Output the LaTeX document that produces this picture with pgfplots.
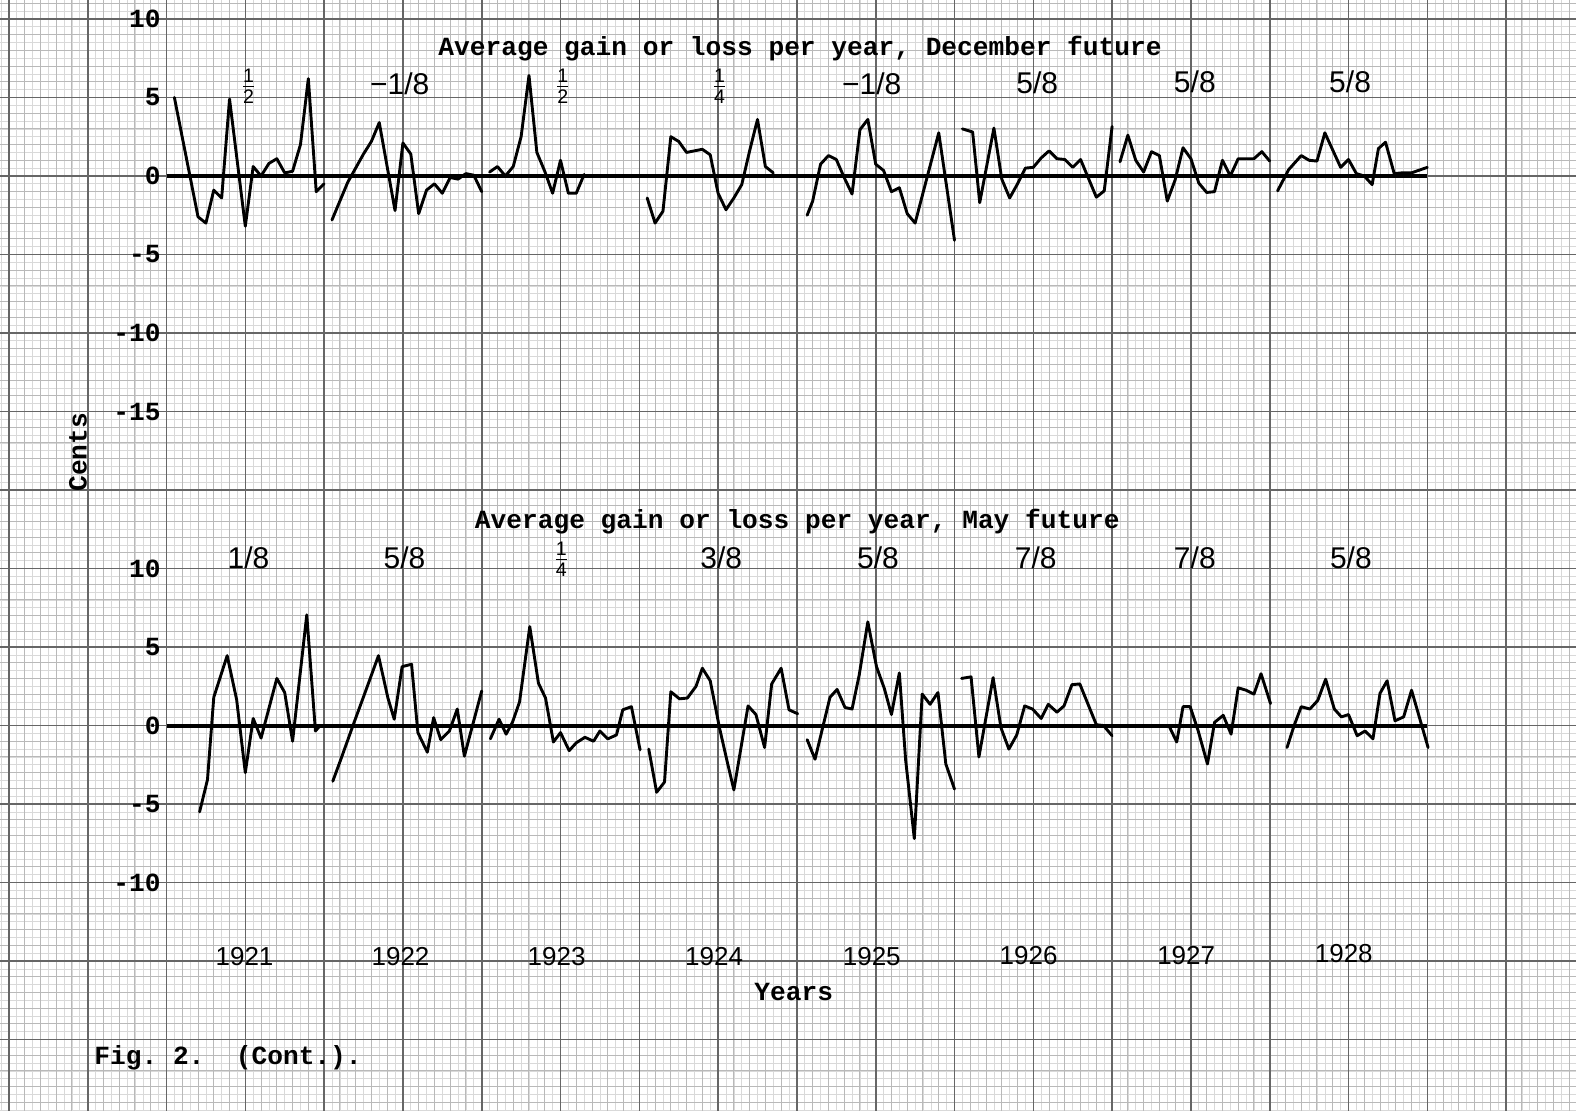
\documentclass[border=0pt]{standalone}
\usepackage{amsmath}
\usepackage{pgfplots}
\pgfplotsset{compat=1.18}
\usepackage{fontspec}
\setmainfont{Liberation Sans}
\newfontfamily\tw{Liberation Mono}
\newcommand\twf{\fontsize{13.1}{15}\tw\bfseries}
\newcommand\hand{\fontsize{13}{15}\selectfont}
\newcommand\frc{\fontsize{15}{17}\selectfont}
\newcommand\sfr[2]{{\fontsize{14}{16}\selectfont$\frac{\text{#1}}{\text{#2}}$}}
\frenchspacing
\begin{document}
\begin{tikzpicture}
\pgfplotsset{
  paper/.style={width=788pt,height=555.5pt,scale only axis,
    xmin=-21.13,xmax=178.87,at={(0,0)},anchor=south west,
    axis line style={draw=none},tick style={draw=none},
    xticklabels={},yticklabels={}},
  topy/.style={ymin=-59.55,ymax=11.21},
  boty/.style={ymin=-24.55,ymax=46.21},
  data/.style={paper,xtick=\empty,ytick=\empty},
  seg/.style={black,solid,mark=none,line width=1.45pt,line join=round,line cap=round},
  zero/.style={black,solid,mark=none,line width=2pt},
}
% graph paper: fine, medium and major rulings
\begin{axis}[paper,topy,xtick distance=1,ytick distance=0.5,grid=major,
  major grid style={draw=gray!30,line width=0.35pt}]
\end{axis}
\begin{axis}[paper,topy,xtick distance=2,ytick distance=1,grid=major,
  major grid style={draw=gray!55,line width=0.5pt}]
\end{axis}
\begin{axis}[paper,topy,xtick distance=10,ytick distance=5,grid=major,
  major grid style={draw=gray!80!black,line width=0.8pt}]
\end{axis}

% ---------------- December future ----------------
\begin{axis}[data,topy]
\addplot[zero] coordinates {(0,0) (160,0)};
% 1921
\addplot[seg] coordinates {(1,5.0) (4,-2.6) (5,-3.0) (6,-0.9) (7,-1.4) (8,4.9) (10,-3.2) (11,0.6) (12,0.0) (13,0.8) (14,1.1) (15,0.2) (16,0.3) (17,2.0) (18,6.2) (19,-1.0) (20,-0.5)};
% 1922
\addplot[seg] coordinates {(21,-2.8) (23,-0.4) (25,1.4) (26,2.2) (27,3.4) (29,-2.2) (30,2.1) (31,1.4) (32,-2.4) (33,-0.9) (34,-0.5) (35,-1.1) (36,-0.1) (37,-0.2) (38,0.15) (39,0.05) (40,-1.0)};
% 1923
\addplot[seg] coordinates {(41,0.25) (42,0.6) (43,0) (44,0.6) (45,2.5) (46,6.4) (47,1.5) (48,0.3) (49,-1.1) (50,1.0) (51,-1.1) (52,-1.1) (53,0.1)};
% 1924
\addplot[seg] coordinates {(61,-1.4) (62,-3.0) (63,-2.25) (64,2.5) (65,2.2) (66,1.5) (67,1.6) (68,1.7) (69,1.35) (70,-1.1) (71,-2.15) (72,-1.4) (73,-0.55) (74,1.6) (75,3.6) (76,0.6) (77,0.2)};
% 1925
\addplot[seg] coordinates {(81.3,-2.5) (82,-1.6) (83,0.75) (84,1.3) (85,1.05) (86,-0.1) (87,-1.15) (88,2.95) (89,3.6) (90,0.75) (91,0.35) (92,-1.0) (93,-0.75) (94,-2.4) (95,-3.0) (98,2.75) (100,-4.1)};
% 1926
\addplot[seg] coordinates {(101,3.0) (102.3,2.8) (103.2,-1.7) (105,3.05) (106,-0.2) (107,-1.4) (108,-0.5) (109,0.5) (110,0.55) (111,1.15) (112,1.6) (113,1.1) (114,1.05) (115,0.55) (116,1.05) (118,-1.35) (119,-0.95) (120,3.15)};
% 1927
\addplot[seg] coordinates {(121,0.9) (122,2.6) (123,1.0) (124,0.25) (125,1.55) (126,1.3) (127,-1.6) (128,-0.25) (129,1.8) (130,1.1) (131,-0.45) (132,-1.05) (133,-1.0) (134,1.0) (135,0.0) (136,1.1) (138,1.1) (139,1.55) (140,0.95)};
% 1928
\addplot[seg] coordinates {(141,-0.95) (142.4,0.4) (144,1.3) (145,1.0) (146,0.95) (147,2.75) (148,1.65) (149,0.55) (150,1.05) (151,0.15) (152,0) (153,-0.55) (153.8,1.75) (154.7,2.15) (155.8,0.15) (156.8,0.2) (158,0.2) (160,0.55)};
% texts
\node[font=\twf,anchor=base] at (axis cs:80.4,7.7) {Average gain or loss per year, December future};
\pgfplotsinvokeforeach{10,5,0,-5,-10,-15}{\node[font=\twf,anchor=east,inner sep=0pt] at (axis cs:-0.7,#1) {#1};}
\node[font=\twf,rotate=90,anchor=base] at (axis cs:-10.15,-17.6) {Cents};
\node at (axis cs:10.4,5.7) {\sfr{1}{2}};
\node[font=\frc] at (axis cs:29.6,5.85) {−1/8};
\node at (axis cs:50.3,5.7) {\sfr{1}{2}};
\node at (axis cs:70.2,5.7) {\sfr{1}{4}};
\node[font=\frc] at (axis cs:89.5,5.9) {−1/8};
\node[font=\frc] at (axis cs:110.5,5.95) {5/8};
\node[font=\frc] at (axis cs:130.5,6.0) {5/8};
\node[font=\frc] at (axis cs:150.2,6.0) {5/8};
\end{axis}

% ---------------- May future ----------------
\begin{axis}[data,boty]
\addplot[zero] coordinates {(0,0) (160,0)};
% 1921
\addplot[seg] coordinates {(4.2,-5.5) (5.2,-3.45) (6,1.8) (7.7,4.45) (8.9,1.65) (10,-3.0) (11,0.45) (12,-0.8) (14,3.0) (15,2.1) (16,-1.0) (17.8,7.05) (18.9,-0.35) (19.5,0)};
% 1922
\addplot[seg] coordinates {(21.1,-3.55) (22.2,-2.05) (23.7,0.05) (25.2,2.1) (26.9,4.45) (28.1,1.75) (28.9,0.4) (29.9,3.75) (31.1,3.9) (31.9,-0.45) (33.1,-1.7) (33.9,0.5) (34.8,-0.9) (35.9,-0.35) (36.9,1.05) (37.8,-1.95) (40,2.2)};
% 1923
\addplot[seg] coordinates {(41.1,-0.85) (42.2,0.4) (43.1,-0.55) (43.9,0.2) (44.8,1.5) (46.1,6.3) (47.2,2.7) (48.1,1.75) (49.1,-1.05) (50,-0.45) (51.1,-1.6) (52,-1.1) (53.1,-0.75) (54.2,-1.0) (55,-0.35) (56,-0.85) (57.1,-0.6) (57.9,1.0) (59,1.2) (60.1,-1.55)};
% 1924
\addplot[seg] coordinates {(61.2,-1.5) (62.2,-4.25) (63.2,-3.6) (64,2.15) (65.1,1.7) (66.1,1.75) (67.2,2.5) (68,3.65) (69,2.85) (70.2,-0.2) (71.2,-2.4) (72,-4.1) (73.8,1.25) (74.8,0.7) (75.9,-1.4) (76.8,2.65) (78,3.65) (79,1.0) (80.1,0.75)};
% 1925
\addplot[seg] coordinates {(81.3,-0.9) (82.3,-2.15) (84.2,1.8) (85.1,2.3) (86.1,1.15) (87,1.05) (87.9,3.2) (89,6.6) (90.1,3.75) (91.1,2.35) (92,0.7) (93,3.35) (93.8,-2.2) (94.9,-7.2) (95.9,2.0) (96.9,1.35) (97.9,2.1) (98.9,-2.45) (100,-4.05)};
% 1926
\addplot[seg] coordinates {(100.9,3.0) (102.1,3.1) (103.1,-2.0) (104.9,3.05) (105.9,-0.15) (106.9,-1.5) (107.9,-0.6) (108.9,1.25) (109.9,1.05) (111,0.45) (111.9,1.35) (113,0.85) (113.9,1.25) (114.9,2.6) (115.9,2.65) (118,0.05) (118.9,0) (120,-0.65)};
% 1927
\addplot[seg] coordinates {(127.2,0) (128.2,-1.05) (129,1.2) (129.9,1.2) (130.9,-0.3) (132.1,-2.45) (133,0.2) (134.1,0.65) (135.1,-0.55) (136,2.4) (137,2.25) (138,2.0) (138.9,3.3) (140.1,1.4)};
% 1928
\addplot[seg] coordinates {(142.2,-1.4) (143.1,0) (144,1.2) (145.1,1.05) (146.1,1.6) (147.1,2.95) (148.2,1.05) (149.1,0.55) (150,0.7) (151.1,-0.65) (152.1,-0.35) (153.1,-0.85) (154,2.05) (154.9,2.85) (155.9,0.3) (157,0.55) (158,2.25) (160.1,-1.4)};
% texts
\node[font=\twf,anchor=base] at (axis cs:80.05,12.57) {Average gain or loss per year, May future};
\pgfplotsinvokeforeach{10,5,0,-5,-10}{\node[font=\twf,anchor=east,inner sep=0pt] at (axis cs:-0.7,#1) {#1};}
\node[font=\frc] at (axis cs:10.4,10.7) {1/8};
\node[font=\frc] at (axis cs:30.2,10.7) {5/8};
\node at (axis cs:50.1,10.6) {\sfr{1}{4}};
\node[font=\frc] at (axis cs:70.4,10.7) {3/8};
\node[font=\frc] at (axis cs:90.3,10.7) {5/8};
\node[font=\frc] at (axis cs:110.3,10.7) {7/8};
\node[font=\frc] at (axis cs:130.5,10.7) {7/8};
\node[font=\frc] at (axis cs:150.3,10.7) {5/8};
\node[font=\hand,anchor=base] at (axis cs:9.9,-15.3) {1921};
\node[font=\hand,anchor=base] at (axis cs:29.7,-15.3) {1922};
\node[font=\hand,anchor=base] at (axis cs:49.5,-15.3) {1923};
\node[font=\hand,anchor=base] at (axis cs:69.5,-15.3) {1924};
\node[font=\hand,anchor=base] at (axis cs:89.5,-15.3) {1925};
\node[font=\hand,anchor=base] at (axis cs:109.4,-15.2) {1926};
\node[font=\hand,anchor=base] at (axis cs:129.4,-15.2) {1927};
\node[font=\hand,anchor=base] at (axis cs:149.4,-15.1) {1928};
\node[font=\twf,anchor=base] at (axis cs:79.6,-17.5) {Years};
\node[font=\twf,anchor=base west,inner sep=0pt] at (axis cs:-9.2,-21.57) {Fig.\ 2.\ \ (Cont.).};
\end{axis}
\pgfresetboundingbox
\path (0,0) rectangle (788pt,555.5pt);
\end{tikzpicture}
\end{document}
